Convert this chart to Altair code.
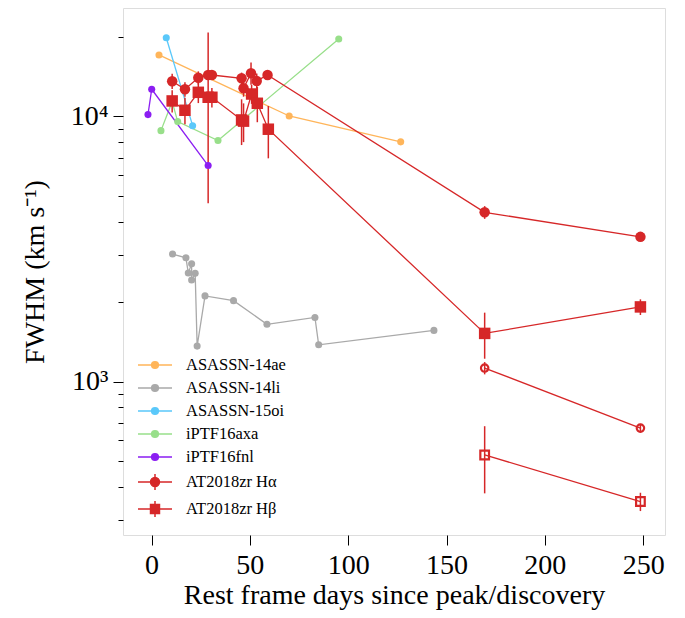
import altair as alt
import pandas as pd

FONT = "Liberation Serif"
RED = "#D62728"

# ---------------- data ----------------
names = ["ASASSN-14ae", "ASASSN-14li", "ASASSN-15oi", "iPTF16axa", "iPTF16fnl",
         "AT2018zr Hα", "AT2018zr Hβ"]
extra_names = ["AT2018zr Hα (open)", "AT2018zr Hβ (open)"]
colors = ["#FFB55A", "#A9A9A9", "#5AC8FA", "#98DF8A", "#8B1EF2", RED, RED]

asn14ae_day = [3.8, 70.0, 126.7]
asn14ae_fwhm = [17060, 10040, 8020]

asn14li_day = [10.7, 17.5, 18.7, 20.4, 20.4, 22.2, 23.2, 27.2, 41.7, 58.7, 83.1, 85.0, 143.6]
asn14li_fwhm = [3027, 2930, 2570, 2782, 2415, 2560, 1361, 2105, 2020, 1645, 1746, 1377, 1560]

asn15oi_day = [7.5, 20.9]
asn15oi_fwhm = [19800, 9230]

ptf16axa_day = [4.8, 10.5, 13.3, 33.8, 95.2]
ptf16axa_fwhm = [8840, 11370, 9560, 8110, 19590]

ptf16fnl_day = [-1.8, 0.1, 28.8]
ptf16fnl_fwhm = [10160, 12660, 6530]

ha_day = [10.5, 17.0, 23.8, 28.8, 30.7, 45.8, 46.8, 50.6, 53.5, 59.0, 169.4, 248.6]
ha_fwhm = [13580, 12660, 13990, 14330, 14330, 13930, 12770, 14560, 13610, 14330, 4350, 3515]
ha_err_lo = [900, 800, 800, 600, 600, 700, 900, 1400, 900, 600, 240, 100]
ha_err_hi = [900, 800, 800, 600, 600, 700, 900, 1400, 900, 600, 240, 100]

hb_day = [10.5, 17.0, 23.8, 28.8, 30.7, 45.8, 46.8, 50.9, 53.8, 59.4, 169.4, 248.6]
hb_fwhm = [11440, 10550, 12330, 11810, 11810, 9700, 9600, 12150, 11210, 8950, 1520, 1913]
hb_err_lo = [1100, 1200, 1100, 7100, 1000, 1900, 1600, 1000, 1700, 2000, 300, 130]
hb_err_hi = [1100, 1200, 1100, 8900, 1000, 1900, 1600, 1000, 1700, 2000, 300, 130]

ha2_day = [169.4, 248.6]
ha2_fwhm = [1125, 668]
ha2_err = [60, 25]

hb2_day = [169.4, 248.6]
hb2_fwhm = [529, 353]
hb2_err = [150, 28]

x_ticks = [0, 50, 100, 150, 200, 250]
y_ticks = [300, 400, 500, 600, 700, 800, 900, 1000,
           2000, 3000, 4000, 5000, 6000, 7000, 8000, 9000, 10000, 20000]

# legend symbol paths (line + marker [+ error bar])
p_small = "M-2.125,0L2.125,0M0.42,0A0.42,0.42,0,1,1,-0.42,0A0.42,0.42,0,1,1,0.42,0Z"
p_ha = "M-2.125,0L2.125,0M0,-1L0,1M0.56,0A0.56,0.56,0,1,1,-0.56,0A0.56,0.56,0,1,1,0.56,0Z"
p_hb = "M-2.125,0L2.125,0M0,-1L0,1M-0.56,-0.56L0.56,-0.56L0.56,0.56L-0.56,0.56Z"
legend_paths = [p_small] * 5 + [p_ha, p_hb]


def rows(name, days, vals, kind, lo=None, hi=None):
    out = []
    for i, (d, v) in enumerate(zip(days, vals)):
        r = {"series": name, "day": d, "fwhm": v, "idx": i, "kind": kind}
        if lo is not None:
            r["lo"] = v - lo[i]
            r["hi"] = v + hi[i]
        out.append(r)
    return out


recs = []
recs += rows(names[0], asn14ae_day, asn14ae_fwhm, "small")
recs += rows(names[1], asn14li_day, asn14li_fwhm, "small")
recs += rows(names[2], asn15oi_day, asn15oi_fwhm, "small")
recs += rows(names[3], ptf16axa_day, ptf16axa_fwhm, "small")
recs += rows(names[4], ptf16fnl_day, ptf16fnl_fwhm, "small")
recs += rows(names[5], ha_day, ha_fwhm, "ha", ha_err_lo, ha_err_hi)
recs += rows(names[6], hb_day, hb_fwhm, "hb", hb_err_lo, hb_err_hi)
recs += rows(extra_names[0], ha2_day, ha2_fwhm, "ha2", ha2_err, ha2_err)
recs += rows(extra_names[1], hb2_day, hb2_fwhm, "hb2", hb2_err, hb2_err)
df = pd.DataFrame(recs)

# ---------------- encodings ----------------
xaxis = alt.Axis(values=x_ticks, title="Rest frame days since peak/discovery",
                 grid=False, domain=False, tickSize=10, tickColor="black",
                 labelPadding=6, labelFont=FONT, labelFontSize=28, labelColor="black",
                 titleFont=FONT, titleFontSize=28, titleFontWeight="normal",
                 titleColor="black", titleBaseline="alphabetic", titleY=68)
yaxis = alt.Axis(values=y_ticks, title="FWHM (km s⁻¹)", grid=False, domain=False,
                 tickColor="black",
                 tickSize={"condition": {"test": "datum.value === 1000 || datum.value === 10000",
                                         "value": 10}, "value": 5},
                 labelExpr="datum.value === 1000 ? '10³' : (datum.value === 10000 ? '10⁴' : '')",
                 labelOverlap=False, labelPadding=5, labelFont=FONT, labelFontSize=28,
                 labelColor="black", titleFont=FONT, titleFontSize=28,
                 titleFontWeight="normal", titleColor="black", titleX=-88,
                 titleBaseline="middle")

xs = alt.Scale(domain=[-14.5, 261.1], nice=False, zero=False)
ys = alt.Scale(type="log", domain=[264, 25640], nice=False)

X = alt.X("day:Q", scale=xs, axis=xaxis)
Y = alt.Y("fwhm:Q", scale=ys, axis=yaxis)
C = alt.Color("series:N", scale=alt.Scale(domain=names + extra_names,
                                          range=colors + [RED, RED]), legend=None)

base = alt.Chart(df)

lines = base.mark_line(strokeWidth=1.3).encode(
    x=X, y=Y, color=C, detail="series:N", order=alt.Order("idx:Q"))

errs = base.transform_filter("isValid(datum.lo)").mark_rule(strokeWidth=1.5).encode(
    x=X, y=alt.Y("lo:Q", scale=ys, axis=yaxis), y2="hi:Q", color=C)

small = base.transform_filter("datum.kind === 'small'").mark_circle(
    size=50, opacity=1).encode(x=X, y=Y, color=C)

ha = base.transform_filter("datum.kind === 'ha'").mark_point(
    shape="circle", filled=True, size=110, opacity=1).encode(x=X, y=Y, color=C)

hb = base.transform_filter("datum.kind === 'hb'").mark_point(
    shape="square", filled=True, size=132, opacity=1).encode(x=X, y=Y, color=C)

ha2 = base.transform_filter("datum.kind === 'ha2'").mark_point(
    shape="circle", filled=False, size=55, strokeWidth=2.2, opacity=1).encode(x=X, y=Y, color=C)

hb2 = base.transform_filter("datum.kind === 'hb2'").mark_point(
    shape="square", filled=False, size=75, strokeWidth=2.2, opacity=1).encode(x=X, y=Y, color=C)

leg = alt.Legend(orient="none", legendX=23, legendY=348, direction="vertical",
                 labelFont=FONT, labelFontSize=16.5, labelColor="black", labelLimit=400,
                 symbolSize=256, symbolStrokeWidth=1.5, symbolOpacity=1,
                 rowPadding=5, labelOffset=22, padding=0)

legend_layer = base.transform_filter(
    alt.FieldOneOfPredicate(field="series", oneOf=names)).mark_point(
    filled=True, opacity=0, size=256).encode(
    x=X, y=Y,
    fill=alt.Fill("series:N", scale=alt.Scale(domain=names, range=colors), legend=leg, title=None),
    stroke=alt.Stroke("series:N", scale=alt.Scale(domain=names, range=colors), legend=leg, title=None),
    shape=alt.Shape("series:N", scale=alt.Scale(domain=names, range=legend_paths), legend=leg, title=None),
)

chart = alt.layer(legend_layer, lines, errs, small, ha, hb, ha2, hb2).properties(
    width=542, height=527,
    autosize=alt.AutoSizeParams(type="none"),
    padding={"left": 115, "top": 0, "right": 12, "bottom": 75},
).configure_view(stroke="black", strokeWidth=1.4).configure(background="white")

chart.save("out.html", embed_options={"renderer": "svg", "actions": False})
